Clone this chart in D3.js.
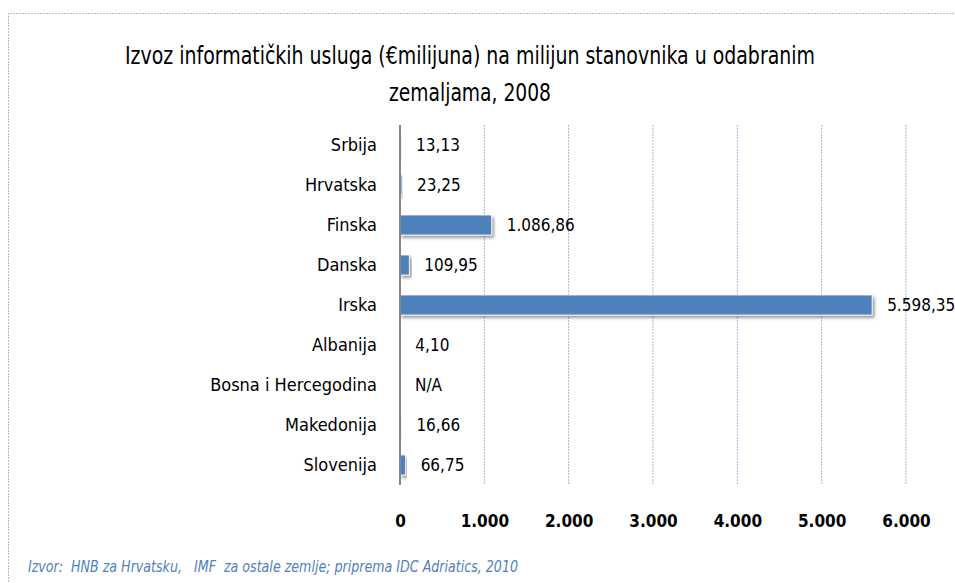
<!DOCTYPE html>
<html>
<head>
<meta charset="utf-8">
<script src="https://cdn.jsdelivr.net/npm/d3@7"></script>
<style>
  body { margin: 0; background: #fff; }
  text { font-family: "DejaVu Sans Condensed", "Liberation Sans Narrow", "Roboto", sans-serif; }
</style>
</head>
<body>
<script>
const countries = ["Srbija", "Hrvatska", "Finska", "Danska", "Irska", "Albanija", "Bosna i Hercegodina", "Makedonija", "Slovenija"];
const values = [13.13, 23.25, 1086.86, 109.95, 5598.35, 4.10, null, 16.66, 66.75];
const valueLabels = ["13,13", "23,25", "1.086,86", "109,95", "5.598,35", "4,10", "N/A", "16,66", "66,75"];
const tickValues = [0, 1000, 2000, 3000, 4000, 5000, 6000];
const tickLabels = ["0", "1.000", "2.000", "3.000", "4.000", "5.000", "6.000"];
const titleLines = ["Izvoz informatičkih usluga (€milijuna) na milijun stanovnika u odabranim", "zemaljama, 2008"];
const titleWidths = [690, 162];
const sourceText = "Izvor:  HNB za Hrvatsku,   IMF  za ostale zemlje; priprema IDC Adriatics, 2010";

const W = 955, H = 583;
const margin = { top: 125, right: 49, bottom: 98, left: 400 },
    width = W - margin.left - margin.right,
    height = H - margin.top - margin.bottom;

const svg = d3.select("body").append("svg")
    .attr("width", W)
    .attr("height", H);

const defs = svg.append("defs");
const f = defs.append("filter").attr("id", "shadow")
    .attr("x", "-20%").attr("y", "-40%").attr("width", "140%").attr("height", "200%");
f.append("feDropShadow")
    .attr("dx", 2).attr("dy", 2.5).attr("stdDeviation", 1.8)
    .attr("flood-color", "#000").attr("flood-opacity", 0.4);

// outer frame (dotted light blue)
svg.append("path")
    .attr("d", `M${W + 5},13.5 H8.5 V${H + 5}`)
    .attr("fill", "none")
    .attr("stroke", "#a8bfdc")
    .attr("stroke-width", 1)
    .attr("stroke-dasharray", "2,1");

// title
svg.append("g")
    .selectAll("text")
    .data(titleLines)
    .join("text")
    .attr("x", 470)
    .attr("y", (d, i) => 64 + i * 37)
    .attr("text-anchor", "middle")
    .attr("font-size", 24)
    .attr("fill", "#000")
    .attr("textLength", (d, i) => titleWidths[i])
    .attr("lengthAdjust", "spacingAndGlyphs")
    .text(d => d);

const g = svg.append("g")
    .attr("transform", "translate(" + margin.left + "," + margin.top + ")");

const x = d3.scaleLinear().domain([0, 6000]).range([0, 506]);
const y = d3.scaleBand().domain(countries).range([0, height]).paddingInner(0.5).paddingOuter(0.25);

// gridlines
g.append("g")
    .selectAll("line")
    .data(tickValues.slice(1))
    .join("line")
    .attr("x1", d => x(d)).attr("x2", d => x(d))
    .attr("y1", 0).attr("y2", height)
    .attr("stroke", "#9db7da")
    .attr("stroke-width", 1)
    .attr("stroke-dasharray", "2,1");

// bars
g.append("g")
    .selectAll("rect")
    .data(countries.map((c, i) => ({ c, v: values[i] })).filter(d => d.v !== null))
    .join("rect")
    .attr("x", 0)
    .attr("y", d => y(d.c))
    .attr("width", d => Math.max(x(d.v), 0.5))
    .attr("height", y.bandwidth())
    .attr("fill", "#4f81bd")
    .attr("stroke", "#fff")
    .attr("stroke-width", 0.8)
    .attr("filter", "url(#shadow)");

// y axis line
g.append("line")
    .attr("x1", 0).attr("x2", 0)
    .attr("y1", 0).attr("y2", height)
    .attr("stroke", "#868686")
    .attr("stroke-width", 2);

// category labels
const yAxis = g.append("g").call(d3.axisLeft(y).tickSize(0).tickPadding(23));
yAxis.select(".domain").remove();
yAxis.selectAll("text")
    .attr("font-size", 18)
    .attr("fill", "#000")
    .attr("dy", "0.35em");

// value labels
g.append("g")
    .selectAll("text")
    .data(countries.map((c, i) => ({ c, v: values[i], l: valueLabels[i] })))
    .join("text")
    .attr("x", d => x(d.v || 0) + 15)
    .attr("y", d => y(d.c) + y.bandwidth() / 2)
    .attr("dy", "0.35em")
    .attr("font-size", 17)
    .attr("fill", "#000")
    .text(d => d.l);

// x axis labels
const xAxis = g.append("g")
    .attr("transform", "translate(0," + height + ")")
    .call(d3.axisBottom(x).tickValues(tickValues).tickFormat((d, i) => tickLabels[i]).tickSize(0).tickPadding(30));
xAxis.select(".domain").remove();
xAxis.selectAll("text")
    .attr("font-size", 17)
    .attr("font-weight", "bold")
    .attr("fill", "#000");

// source note
svg.append("text")
    .attr("x", 28)
    .attr("y", 572)
    .attr("font-size", 16)
    .attr("font-style", "italic")
    .attr("fill", "#4f81bd")
    .attr("textLength", 490)
    .attr("lengthAdjust", "spacingAndGlyphs")
    .style("white-space", "pre")
    .text(sourceText);
</script>
</body>
</html>
